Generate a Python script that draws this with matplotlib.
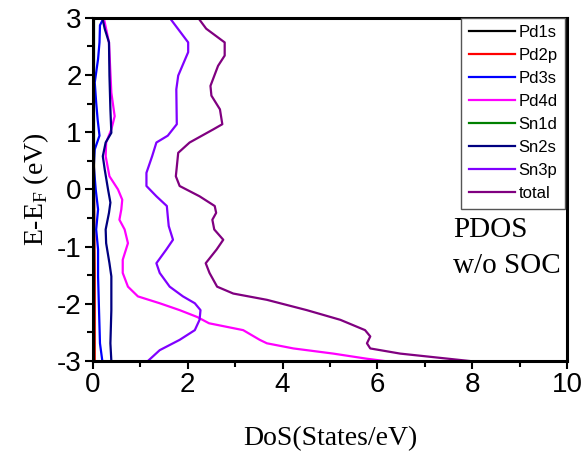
import matplotlib
matplotlib.use("Agg")
import matplotlib.pyplot as plt
from matplotlib.ticker import MultipleLocator

# projected DoS (states/eV) against energy E - E_F (eV), one grid per orbital
pd1s_e = [3.0, 1.5, 0.0, -1.5, -3.0]
pd1s_dos = [0.01, 0.01, 0.01, 0.01, 0.01]

pd2p_e = [3.0, 1.0, -0.5, -1.5, -3.0]
pd2p_dos = [0.02, 0.02, 0.03, 0.04, 0.04]

pd3s_e = [3.0, 2.87, 2.57, 2.28, 1.87, 1.52, 1.23, 0.94, 0.70, 0.41, 0.0,
          -0.35, -0.70, -1.05, -1.52, -2.11, -2.69, -3.0]
pd3s_dos = [0.23, 0.15, 0.14, 0.11, 0.04, 0.07, 0.10, 0.14, 0.04, 0.02, 0.06,
            0.11, 0.07, 0.11, 0.11, 0.13, 0.15, 0.20]

pd4d_e = [3.0, 2.57, 1.69, 1.28, 1.05, 0.82, 0.58, 0.23, 0.0, -0.18, -0.35,
          -0.53, -0.70, -0.94, -1.23, -1.46, -1.70, -1.87, -1.99, -2.11,
          -2.23, -2.34, -2.46, -2.63, -2.69, -2.78, -2.87, -2.96, -3.0]
pd4d_dos = [0.23, 0.34, 0.39, 0.46, 0.39, 0.28, 0.27, 0.35, 0.53, 0.62, 0.60,
            0.56, 0.67, 0.74, 0.63, 0.63, 0.74, 0.95, 1.41, 1.83, 2.20, 2.45,
            3.17, 3.52, 3.67, 4.23, 5.07, 5.78, 6.15]

sn1d_e = [3.0, 1.5, 0.0, -1.5, -3.0]
sn1d_dos = [0.02, 0.02, 0.02, 0.02, 0.02]

sn2s_e = [3.0, 2.81, 2.57, 1.99, 1.40, 0.99, 0.82, 0.58, 0.35, 0.0, -0.23,
          -0.41, -0.70, -0.94, -1.29, -1.52, -2.11, -2.69, -3.0]
sn2s_dos = [0.20, 0.25, 0.34, 0.35, 0.37, 0.39, 0.27, 0.21, 0.25, 0.32, 0.37,
            0.34, 0.27, 0.28, 0.35, 0.39, 0.39, 0.37, 0.39]

sn3p_e = [3.0, 2.57, 2.40, 1.99, 1.75, 1.14, 0.94, 0.82, 0.58, 0.29, 0.06,
          -0.12, -0.29, -0.47, -0.64, -0.88, -1.05, -1.29, -1.46, -1.70,
          -1.87, -1.99, -2.11, -2.28, -2.46, -2.63, -2.81, -3.0]
sn3p_dos = [1.62, 2.01, 2.01, 1.80, 1.76, 1.77, 1.58, 1.34, 1.25, 1.13, 1.13,
            1.34, 1.56, 1.58, 1.60, 1.69, 1.55, 1.34, 1.41, 1.62, 1.90, 2.15,
            2.27, 2.25, 2.15, 1.83, 1.41, 1.16]

total_e = [3.0, 2.81, 2.57, 2.34, 2.16, 1.81, 1.64, 1.40, 1.14, 1.05, 0.82,
           0.64, 0.23, 0.06, -0.12, -0.29, -0.41, -0.53, -0.70, -0.88,
           -1.05, -1.29, -1.46, -1.70, -1.82, -1.93, -2.11, -2.28, -2.46,
           -2.57, -2.69, -2.78, -2.87, -3.0]
total_dos = [2.22, 2.39, 2.78, 2.78, 2.64, 2.48, 2.50, 2.68, 2.73, 2.54, 2.04,
             1.80, 1.75, 1.83, 2.25, 2.57, 2.60, 2.52, 2.56, 2.75, 2.61,
             2.38, 2.46, 2.62, 2.96, 3.67, 4.51, 5.22, 5.74, 5.85, 5.78,
             5.85, 6.48, 7.95]

series = [
    ("Pd1s", pd1s_e, pd1s_dos, "black"),
    ("Pd2p", pd2p_e, pd2p_dos, "red"),
    ("Pd3s", pd3s_e, pd3s_dos, "blue"),
    ("Pd4d", pd4d_e, pd4d_dos, "#ff00ff"),
    ("Sn1d", sn1d_e, sn1d_dos, "green"),
    ("Sn2s", sn2s_e, sn2s_dos, "navy"),
    ("Sn3p", sn3p_e, sn3p_dos, "#8000ff"),
    ("total", total_e, total_dos, "purple"),
]

plt.rcParams["font.family"] = "Liberation Sans"
plt.rcParams["axes.unicode_minus"] = False

fig = plt.figure(figsize=(5.84, 4.57), dpi=100)
ax = fig.add_axes([0.159, 0.21, 0.812, 0.751])

for name, e, dos, color in series:
    ax.plot(dos, e, color=color, lw=1.6, label=name)

ax.set_xlim(0, 10)
ax.set_ylim(-3, 3)
ax.xaxis.set_major_locator(MultipleLocator(2))
ax.xaxis.set_minor_locator(MultipleLocator(1))
ax.yaxis.set_major_locator(MultipleLocator(1))
ax.yaxis.set_minor_locator(MultipleLocator(0.5))
ax.tick_params(which="both", direction="out", width=1.5, labelsize=20,
               top=False, right=False, pad=2)
ax.tick_params(which="major", length=6)
ax.tick_params(which="minor", length=4)
for sp in ax.spines.values():
    sp.set_linewidth(2.2)

serif = "Liberation Serif"
ax.set_xlabel("DoS(States/eV)", family=serif, fontsize=20, labelpad=20)
ax.set_ylabel(r"E-E$_\mathregular{F}$ (eV)", family=serif, fontsize=20,
              labelpad=4)

# annotation, one line per text so the baselines sit where wanted
ax.text(0.76, 0.362, "PDOS", transform=ax.transAxes, family=serif,
        fontsize=21, ha="left", va="baseline")
ax.text(0.76, 0.257, "w/o SOC", transform=ax.transAxes, family=serif,
        fontsize=21, ha="left", va="baseline")

leg = ax.legend(loc="upper right", bbox_to_anchor=(0.996, 1.0), fontsize=12,
                handlelength=2.8, handletextpad=0.2, labelspacing=0.48,
                borderpad=0.45, fancybox=False, framealpha=1,
                edgecolor="#555555", borderaxespad=0)
leg.get_frame().set_linewidth(1.0)

fig.savefig("out.png", dpi=100)
